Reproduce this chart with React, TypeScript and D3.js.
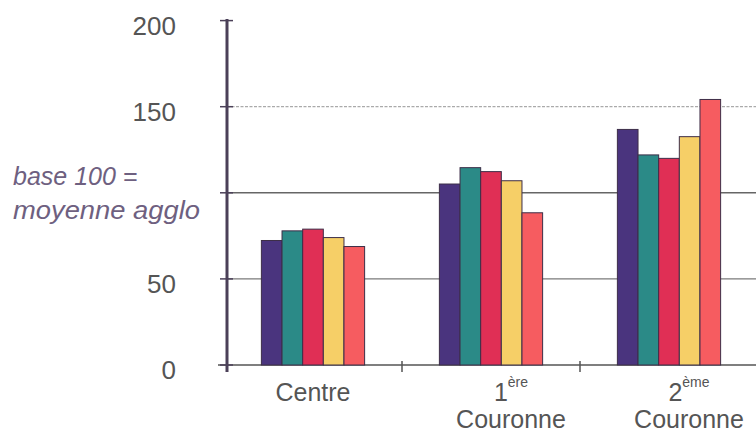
import React from "react";
import * as d3 from "d3";

const categories = ["Centre", "1ère Couronne", "2ème Couronne"];
const labelMain = ["Centre", "1", "2"];
const labelSup = ["", "ère", "ème"];
const labelSecond = ["", "Couronne", "Couronne"];

const seriesNames = ["s1", "s2", "s3", "s4", "s5"];
const serie1 = [72.3, 105.1, 136.8];
const serie2 = [77.9, 114.6, 122.0];
const serie3 = [78.9, 112.3, 120.0];
const serie4 = [74.0, 107.0, 132.6];
const serie5 = [68.8, 88.4, 154.2];
const seriesValues = [serie1, serie2, serie3, serie4, serie5];
const seriesColors = ["#4a347e", "#2b8a87", "#e02f55", "#f6cf67", "#f65c60"];

const yTicks = [0, 50, 100, 150, 200];
const yTickLabels = ["0", "50", "", "150", "200"];

const W = 756;
const H = 434;

export default function App() {
  const x0 = d3
    .scaleBand<string>()
    .domain(categories)
    .range([224, 758])
    .paddingInner(0.42)
    .paddingOuter(0.21);
  const x1 = d3
    .scaleBand<string>()
    .domain(seriesNames)
    .range([0, x0.bandwidth()])
    .padding(0);
  const y = d3.scaleLinear().domain([0, 200]).range([365, 20.6]);

  const axisX = 227;
  const font = "'Liberation Sans', Arial, Helvetica, sans-serif";
  const step = x0.step();

  const gridStyle: Record<number, { stroke: string; width: number; dash?: string }> = {
    50: { stroke: "#7a7a7a", width: 1.2 },
    100: { stroke: "#666", width: 1.6 },
    150: { stroke: "#aaa", width: 1.2, dash: "3,1.5" },
  };

  return (
    <svg
      width={W}
      height={H}
      style={{ position: "absolute", left: 0, top: 0, background: "#fff" }}
      fontFamily={font}
    >
      <rect x={0} y={0} width={W} height={H} fill="#fff" />
      {/* gridlines */}
      {yTicks
        .filter((t) => t > 0 && t < 200)
        .map((t) => (
          <line
            key={"g" + t}
            x1={axisX}
            x2={W}
            y1={y(t)}
            y2={y(t)}
            stroke={gridStyle[t].stroke}
            strokeWidth={gridStyle[t].width}
            strokeDasharray={gridStyle[t].dash}
          />
        ))}
      {/* baseline */}
      <line x1={218} x2={W} y1={y(0)} y2={y(0)} stroke="#555" strokeWidth={1.6} />
      {/* x ticks at band boundaries */}
      {categories.slice(1).map((c) => (
        <line
          key={"xt" + c}
          x1={x0(c)! - (step - x0.bandwidth()) / 2}
          x2={x0(c)! - (step - x0.bandwidth()) / 2}
          y1={y(0) - 4}
          y2={y(0) + 7}
          stroke="#555"
          strokeWidth={1.5}
        />
      ))}
      {/* bars */}
      {categories.map((c, ci) => (
        <g key={c} transform={`translate(${x0(c)},0)`}>
          {seriesNames.map((s, si) => {
            const v = seriesValues[si][ci];
            return (
              <rect
                key={s}
                x={x1(s)}
                y={y(v)}
                width={x1.bandwidth()}
                height={y(0) - y(v)}
                fill={seriesColors[si]}
                stroke="#3d2e48"
                strokeWidth={1}
              />
            );
          })}
        </g>
      ))}
      {/* y axis */}
      <line x1={axisX} x2={axisX} y1={19} y2={372} stroke="#4b4058" strokeWidth={3} />
      {yTicks.map((t, i) => (
        <g key={"yt" + t}>
          <line x1={220} x2={233} y1={y(t)} y2={y(t)} stroke="#4b4058" strokeWidth={1.5} />
          {yTickLabels[i] && (
            <text
              x={176}
              y={y(t) + 5}
              dy="0.35em"
              textAnchor="end"
              fontSize={26}
              fill="#555"
            >
              {yTickLabels[i]}
            </text>
          )}
        </g>
      ))}
      {/* y title */}
      <text x={13} y={185} fontSize={25} fontStyle="italic" fill="#6e6080">
        base 100 =
      </text>
      <text x={13} y={219} fontSize={25} fontStyle="italic" fill="#6e6080" textLength={187} lengthAdjust="spacingAndGlyphs">
        moyenne agglo
      </text>
      {/* x labels */}
      {categories.map((c, ci) => {
        const cx = x0(c)! + x0.bandwidth() / 2;
        const off = labelSecond[ci] ? 20 : 0;
        return (
          <g key={"xl" + c} fill="#555" fontSize={25}>
            <text x={cx + off} y={401} textAnchor="middle">
              {labelMain[ci]}
              {labelSup[ci] && (
                <tspan fontSize={14} dy={-14}>
                  {labelSup[ci]}
                </tspan>
              )}
            </text>
            {labelSecond[ci] && (
              <text x={cx + off} y={428} textAnchor="middle">
                {labelSecond[ci]}
              </text>
            )}
          </g>
        );
      })}
    </svg>
  );
}
